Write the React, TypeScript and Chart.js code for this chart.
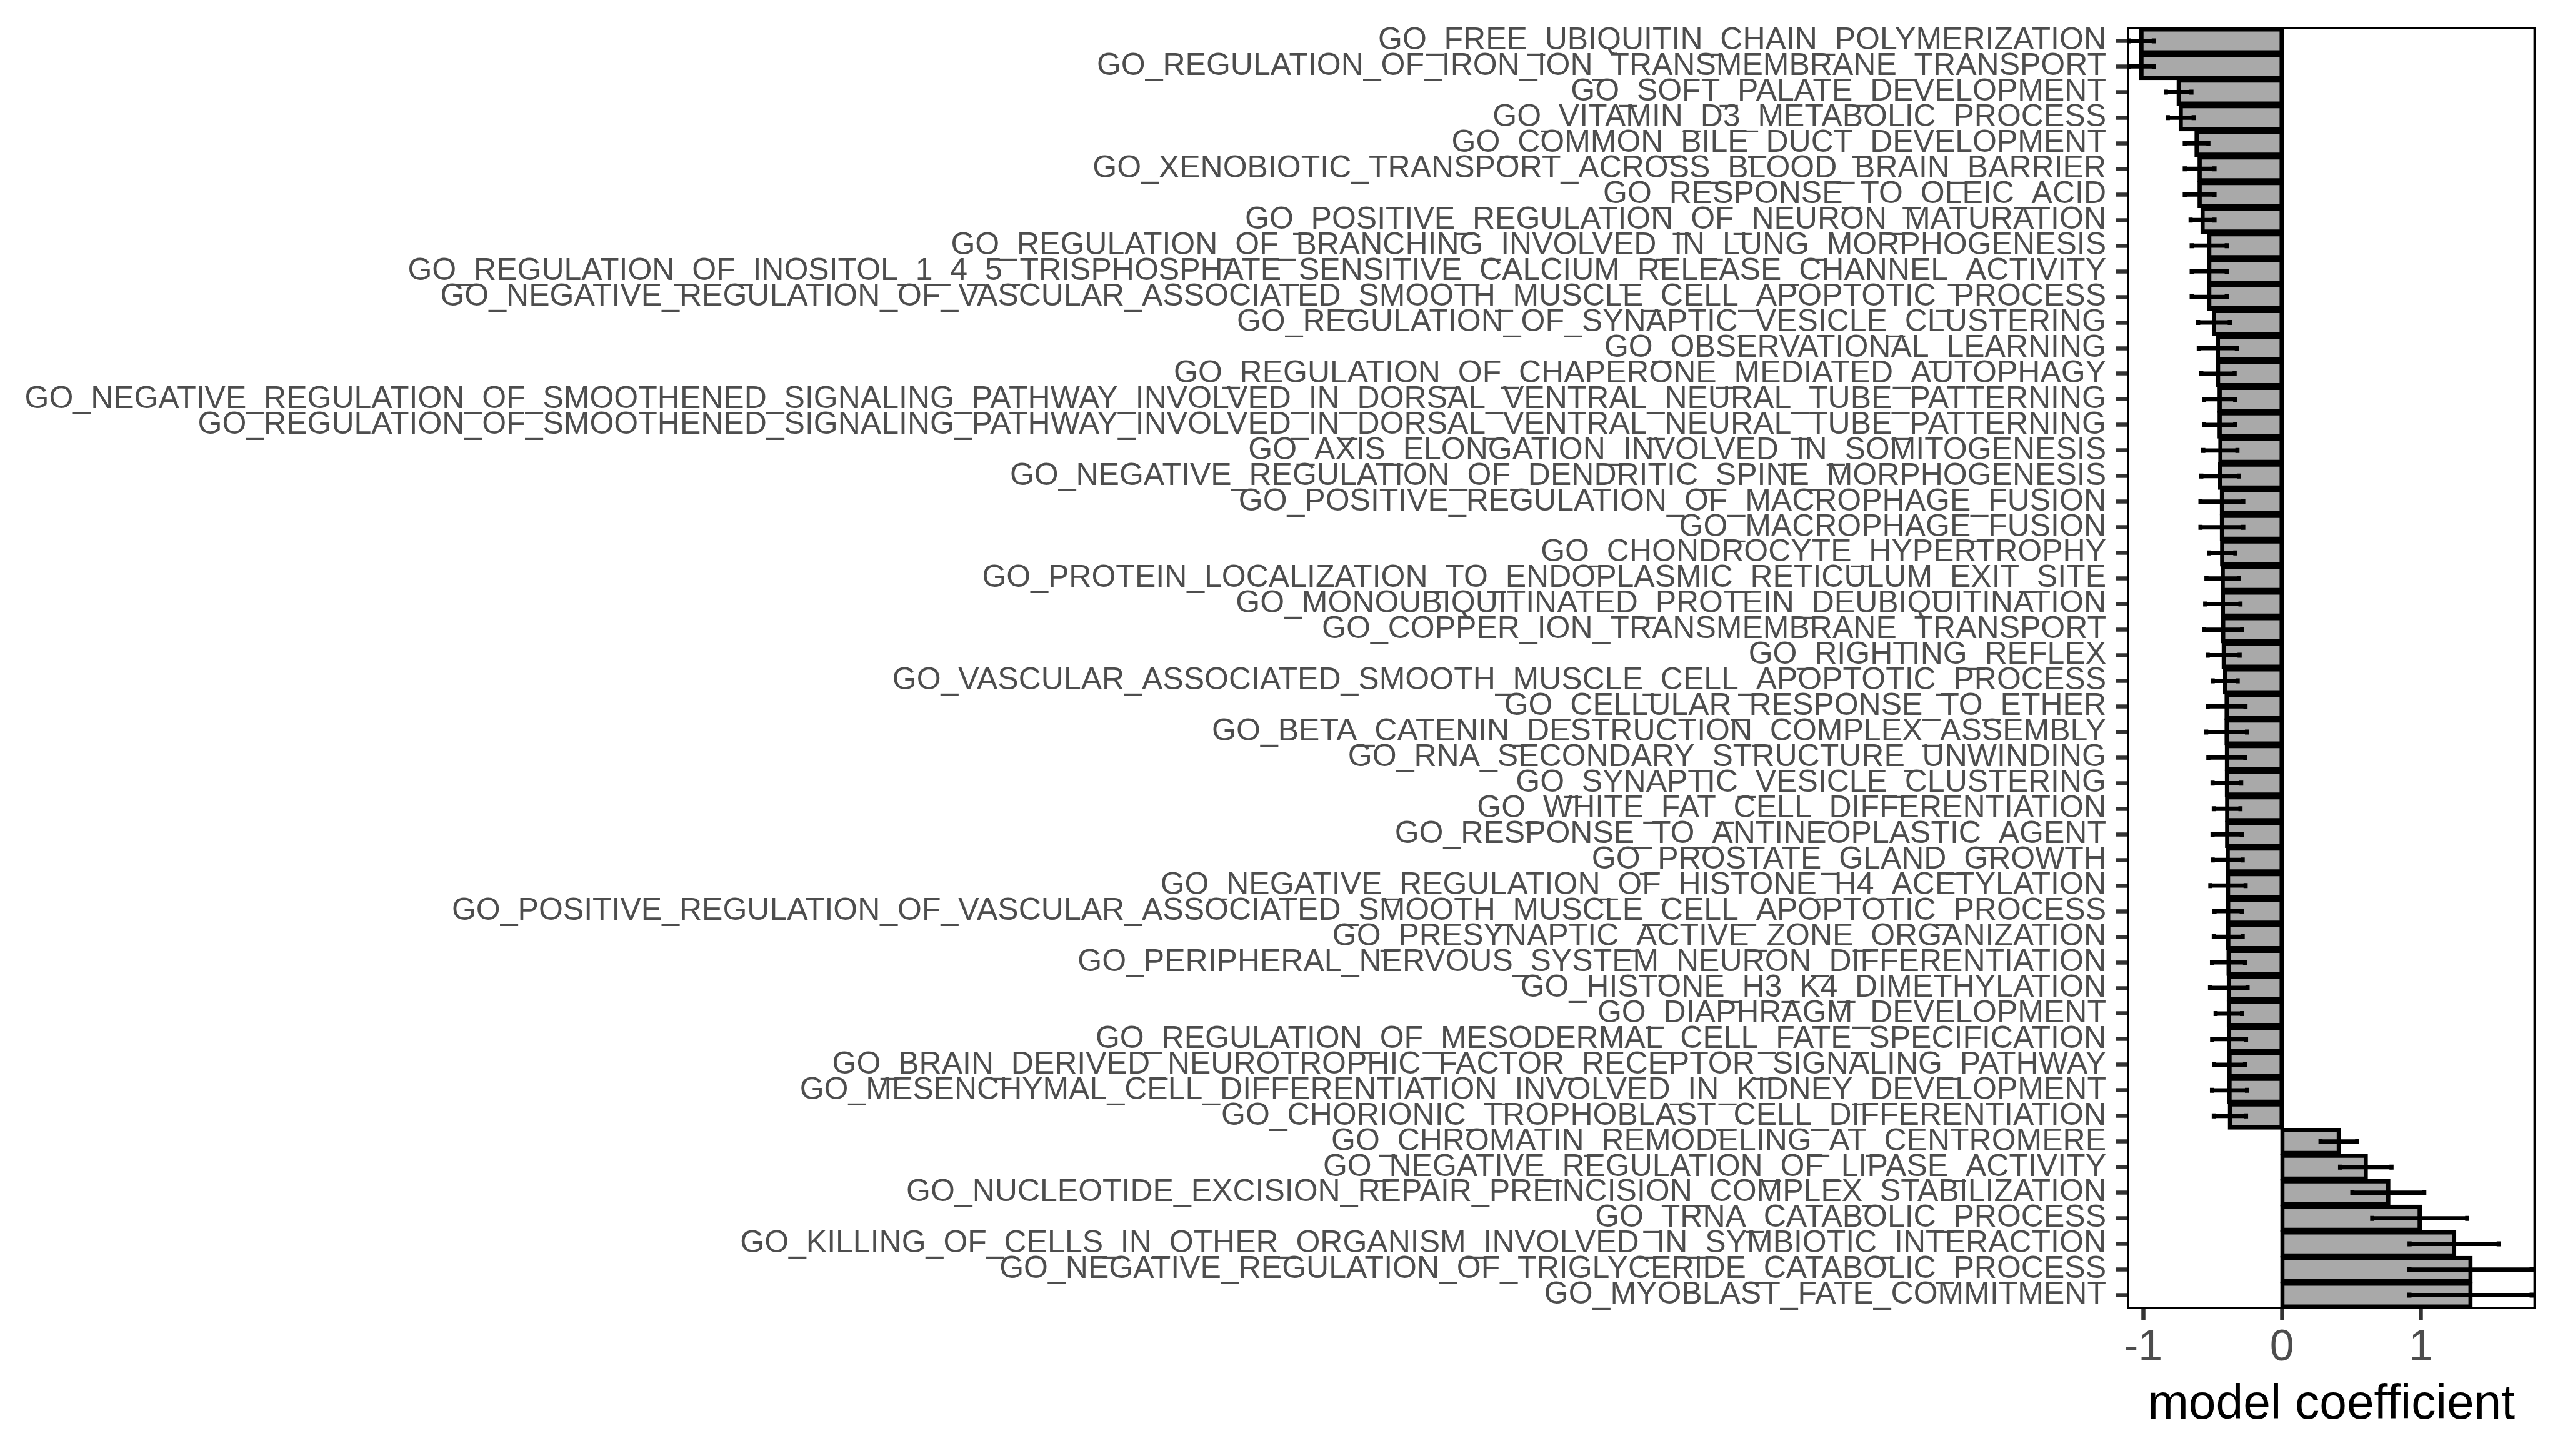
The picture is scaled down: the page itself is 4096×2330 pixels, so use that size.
import React, { useEffect, useRef } from 'react';
import { Chart, registerables } from 'chart.js';

Chart.register(...registerables);

const categories = [
  'GO_FREE_UBIQUITIN_CHAIN_POLYMERIZATION',
  'GO_REGULATION_OF_IRON_ION_TRANSMEMBRANE_TRANSPORT',
  'GO_SOFT_PALATE_DEVELOPMENT',
  'GO_VITAMIN_D3_METABOLIC_PROCESS',
  'GO_COMMON_BILE_DUCT_DEVELOPMENT',
  'GO_XENOBIOTIC_TRANSPORT_ACROSS_BLOOD_BRAIN_BARRIER',
  'GO_RESPONSE_TO_OLEIC_ACID',
  'GO_POSITIVE_REGULATION_OF_NEURON_MATURATION',
  'GO_REGULATION_OF_BRANCHING_INVOLVED_IN_LUNG_MORPHOGENESIS',
  'GO_REGULATION_OF_INOSITOL_1_4_5_TRISPHOSPHATE_SENSITIVE_CALCIUM_RELEASE_CHANNEL_ACTIVITY',
  'GO_NEGATIVE_REGULATION_OF_VASCULAR_ASSOCIATED_SMOOTH_MUSCLE_CELL_APOPTOTIC_PROCESS',
  'GO_REGULATION_OF_SYNAPTIC_VESICLE_CLUSTERING',
  'GO_OBSERVATIONAL_LEARNING',
  'GO_REGULATION_OF_CHAPERONE_MEDIATED_AUTOPHAGY',
  'GO_NEGATIVE_REGULATION_OF_SMOOTHENED_SIGNALING_PATHWAY_INVOLVED_IN_DORSAL_VENTRAL_NEURAL_TUBE_PATTERNING',
  'GO_REGULATION_OF_SMOOTHENED_SIGNALING_PATHWAY_INVOLVED_IN_DORSAL_VENTRAL_NEURAL_TUBE_PATTERNING',
  'GO_AXIS_ELONGATION_INVOLVED_IN_SOMITOGENESIS',
  'GO_NEGATIVE_REGULATION_OF_DENDRITIC_SPINE_MORPHOGENESIS',
  'GO_POSITIVE_REGULATION_OF_MACROPHAGE_FUSION',
  'GO_MACROPHAGE_FUSION',
  'GO_CHONDROCYTE_HYPERTROPHY',
  'GO_PROTEIN_LOCALIZATION_TO_ENDOPLASMIC_RETICULUM_EXIT_SITE',
  'GO_MONOUBIQUITINATED_PROTEIN_DEUBIQUITINATION',
  'GO_COPPER_ION_TRANSMEMBRANE_TRANSPORT',
  'GO_RIGHTING_REFLEX',
  'GO_VASCULAR_ASSOCIATED_SMOOTH_MUSCLE_CELL_APOPTOTIC_PROCESS',
  'GO_CELLULAR_RESPONSE_TO_ETHER',
  'GO_BETA_CATENIN_DESTRUCTION_COMPLEX_ASSEMBLY',
  'GO_RNA_SECONDARY_STRUCTURE_UNWINDING',
  'GO_SYNAPTIC_VESICLE_CLUSTERING',
  'GO_WHITE_FAT_CELL_DIFFERENTIATION',
  'GO_RESPONSE_TO_ANTINEOPLASTIC_AGENT',
  'GO_PROSTATE_GLAND_GROWTH',
  'GO_NEGATIVE_REGULATION_OF_HISTONE_H4_ACETYLATION',
  'GO_POSITIVE_REGULATION_OF_VASCULAR_ASSOCIATED_SMOOTH_MUSCLE_CELL_APOPTOTIC_PROCESS',
  'GO_PRESYNAPTIC_ACTIVE_ZONE_ORGANIZATION',
  'GO_PERIPHERAL_NERVOUS_SYSTEM_NEURON_DIFFERENTIATION',
  'GO_HISTONE_H3_K4_DIMETHYLATION',
  'GO_DIAPHRAGM_DEVELOPMENT',
  'GO_REGULATION_OF_MESODERMAL_CELL_FATE_SPECIFICATION',
  'GO_BRAIN_DERIVED_NEUROTROPHIC_FACTOR_RECEPTOR_SIGNALING_PATHWAY',
  'GO_MESENCHYMAL_CELL_DIFFERENTIATION_INVOLVED_IN_KIDNEY_DEVELOPMENT',
  'GO_CHORIONIC_TROPHOBLAST_CELL_DIFFERENTIATION',
  'GO_CHROMATIN_REMODELING_AT_CENTROMERE',
  'GO_NEGATIVE_REGULATION_OF_LIPASE_ACTIVITY',
  'GO_NUCLEOTIDE_EXCISION_REPAIR_PREINCISION_COMPLEX_STABILIZATION',
  'GO_TRNA_CATABOLIC_PROCESS',
  'GO_KILLING_OF_CELLS_IN_OTHER_ORGANISM_INVOLVED_IN_SYMBIOTIC_INTERACTION',
  'GO_NEGATIVE_REGULATION_OF_TRIGLYCERIDE_CATABOLIC_PROCESS',
  'GO_MYOBLAST_FATE_COMMITMENT',
];

const coefficients = [
  -1.012, -1.012, -0.744, -0.729, -0.615, -0.593, -0.593, -0.572, -0.524, -0.524,
  -0.524, -0.49, -0.462, -0.461, -0.449, -0.449, -0.444, -0.445, -0.433, -0.433,
  -0.431, -0.427, -0.426, -0.424, -0.42, -0.409, -0.399, -0.399, -0.397, -0.397,
  -0.395, -0.395, -0.391, -0.389, -0.388, -0.387, -0.385, -0.383, -0.383, -0.381,
  -0.378, -0.378, -0.375, 0.409, 0.603, 0.765, 0.991, 1.239, 1.357, 1.357,
];

const errors = [
  0.089, 0.089, 0.092, 0.093, 0.085, 0.107, 0.107, 0.086, 0.126, 0.126,
  0.126, 0.114, 0.137, 0.12, 0.112, 0.112, 0.123, 0.136, 0.154, 0.154,
  0.095, 0.117, 0.127, 0.137, 0.115, 0.09, 0.136, 0.147, 0.133, 0.103,
  0.096, 0.105, 0.108, 0.127, 0.098, 0.104, 0.119, 0.135, 0.095, 0.122,
  0.112, 0.126, 0.116, 0.132, 0.185, 0.259, 0.342, 0.321, 0.44, 0.44,
];

const xTickValues = [-1, 0, 1];
const xLimits = [-1.108, 1.818];
const axisTitle = 'model coefficient';

const FONT = "'Liberation Sans', Arial, Helvetica, sans-serif";

const framePlugin = {
  id: 'panelFrame',
  afterDatasetsDraw(chart: any) {
    const { ctx, chartArea: a } = chart;
    ctx.save();
    ctx.strokeStyle = '#000000';
    ctx.lineWidth = 3.7;
    ctx.strokeRect(a.left, a.top, a.right - a.left, a.bottom - a.top);
    ctx.restore();
  },
};

export default function App() {
  const ref = useRef<HTMLCanvasElement>(null);

  useEffect(() => {
    const lows = coefficients.map((v, i) => v - errors[i]);
    const highs = coefficients.map((v, i) => v + errors[i]);
    const capPoints = [
      ...lows.map((x, i) => ({ x, y: categories[i] })),
      ...highs.map((x, i) => ({ x, y: categories[i] })),
    ];

    const tickGrid = {
      display: true,
      drawOnChartArea: false,
      drawTicks: true,
      tickLength: 20,
      tickWidth: 6.5,
      tickColor: '#333333',
      offset: false,
    };

    const chart = new Chart(ref.current as HTMLCanvasElement, {
      type: 'bar',
      data: {
        labels: categories,
        datasets: [
          {
            type: 'scatter',
            label: 'caps',
            data: capPoints,
            pointStyle: 'line',
            pointRotation: 90,
            pointRadius: 4,
            pointHoverRadius: 4,
            pointBorderWidth: 6.6,
            pointBorderColor: '#000000',
            pointBackgroundColor: '#000000',
            showLine: false,
            order: 0,
          } as any,
          {
            type: 'bar',
            label: 'error',
            data: lows.map((l, i) => [l, highs[i]]),
            backgroundColor: '#000000',
            borderWidth: 0,
            barThickness: 6.2,
            grouped: false,
            order: 1,
          } as any,
          {
            type: 'bar',
            label: 'coefficient',
            data: coefficients,
            backgroundColor: '#A9A9A9',
            borderColor: '#000000',
            borderWidth: 6.8,
            inflateAmount: 3.4,
            borderSkipped: false,
            categoryPercentage: 1,
            barPercentage: 0.9,
            grouped: false,
            order: 2,
          } as any,
        ],
      },
      options: {
        indexAxis: 'y',
        responsive: false,
        maintainAspectRatio: false,
        devicePixelRatio: 1,
        animation: false,
        layout: { padding: { left: 0, top: 39, right: 40.5, bottom: 0 } },
        plugins: {
          legend: { display: false },
          tooltip: { enabled: false },
        },
        scales: {
          x: {
            type: 'linear',
            min: xLimits[0],
            max: xLimits[1],
            afterBuildTicks: (s: any) => {
              s.ticks = xTickValues.map((v) => ({ value: v }));
            },
            grid: tickGrid,
            border: { display: false },
            ticks: {
              color: '#4D4D4D',
              font: { family: FONT, size: 70 },
              padding: 2.5,
              maxRotation: 0,
              autoSkip: false,
              callback: (v: any) => String(v),
            },
            title: {
              display: true,
              text: axisTitle,
              color: '#000000',
              font: { family: FONT, size: 78.5 },
              padding: { top: 0, bottom: 34.4 },
            },
            afterFit: (s: any) => {
              s.height = 237;
            },
          },
          y: {
            type: 'category',
            offset: true,
            grid: tickGrid,
            border: { display: false },
            ticks: {
              autoSkip: false,
              color: '#4D4D4D',
              font: { family: FONT, size: 50 },
              padding: 15,
            },
            afterFit: (s: any) => {
              s.width = 3405;
            },
          },
        },
      } as any,
      plugins: [framePlugin],
    });

    return () => chart.destroy();
  }, []);

  return (
    <div
      style={{
        position: 'fixed',
        left: 0,
        top: 0,
        width: 4096,
        height: 2330,
        background: '#ffffff',
      }}
    >
      <canvas ref={ref} width={4096} height={2330} style={{ display: 'block' }} />
    </div>
  );
}
